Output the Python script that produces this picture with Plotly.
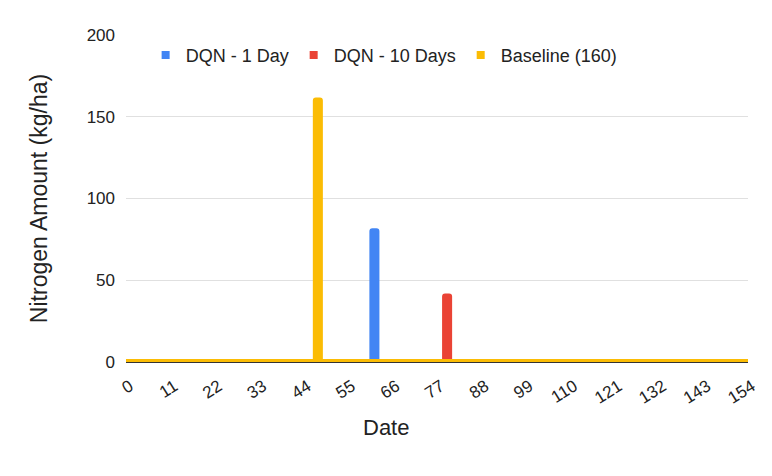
import plotly.graph_objects as go

# ---- data ----
days = list(range(0, 155))
series_names = ["DQN - 1 Day", "DQN - 10 Days", "Baseline (160)"]
application_day = [61, 79, 47]          # day of the single nitrogen application
application_amount = [80, 40, 160]      # kg/ha applied that day
series_colors = ["#4285F4", "#EA4335", "#FBBC04"]

x_tick_values = list(range(0, 155, 11))
x_tick_labels = [str(v) for v in x_tick_values]
y_tick_values = [0, 50, 100, 150, 200]

FONT = "Liberation Sans, Arial, sans-serif"

fig = go.Figure()

for name, day, amount, color in zip(series_names, application_day,
                                    application_amount, series_colors):
    y = [amount if d == day else 0 for d in days]
    fig.add_trace(go.Scatter(
        x=days, y=y, mode="lines", name=name,
        line=dict(color=color, width=6, shape="hv"),
        showlegend=False, hoverinfo="x+y+name",
    ))

# legend entries with square swatches
for name, color in zip(series_names, series_colors):
    fig.add_trace(go.Scatter(
        x=[None], y=[None], mode="markers", name=name,
        marker=dict(symbol="square", size=8, color=color),
    ))

fig.update_layout(
    width=772, height=476,
    margin=dict(l=126, r=24, t=35, b=114),
    paper_bgcolor="white", plot_bgcolor="white",
    font=dict(family=FONT, size=17, color="#222222"),
    legend=dict(
        orientation="h", x=0.415, xanchor="center", y=0.938, yanchor="middle",
        font=dict(size=18, color="#222222"), bgcolor="rgba(0,0,0,0)",
        itemwidth=30, tracegroupgap=0,
    ),
    xaxis=dict(
        range=[0, 154], tickmode="array", tickvals=x_tick_values,
        ticktext=x_tick_labels, tickangle=-32, showgrid=False,
        showline=True, linecolor="#333333", linewidth=1,
        zeroline=False, ticks="", tickfont=dict(size=17, color="#222222"),
        ticklabelstandoff=7, ticklabelshift=4, automargin=False,
    ),
    yaxis=dict(
        range=[0, 200], tickmode="array", tickvals=y_tick_values,
        showgrid=True, gridcolor="#e0e0e0", gridwidth=1, zeroline=False,
        showline=False, ticks="", tickfont=dict(size=17, color="#222222"),
        ticklabelstandoff=10, automargin=False,
        title=dict(text="Nitrogen Amount (kg/ha)", font=dict(size=23, color="#222222"),
                   standoff=32),
    ),
    annotations=[dict(
        text="Date", xref="paper", yref="paper", x=0.418, y=-0.2,
        xanchor="center", yanchor="middle", showarrow=False,
        font=dict(size=22, color="#222222"),
    )],
)

post = """
var s = document.createElement('style');
s.innerHTML = 'body{margin:0 !important;} .scatterlayer path.js-line{stroke-linejoin:round;}';
document.head.appendChild(s);
"""
fig.write_html("out.html", post_script=post, config={"displayModeBar": False})
